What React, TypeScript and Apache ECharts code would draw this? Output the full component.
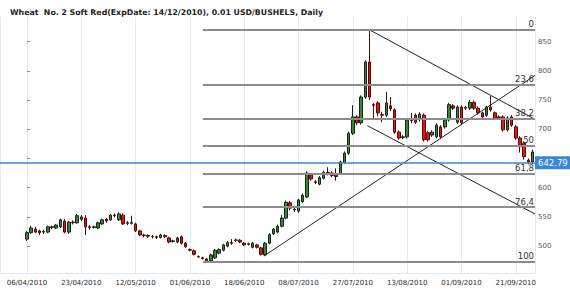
import React, { useEffect, useRef } from 'react';
import * as echarts from 'echarts';

const TITLE = 'Wheat  No. 2 Soft Red(ExpDate: 14/12/2010), 0.01 USD/BUSHELS, Daily';

// x tick labels, one every TICK_STEP trading days starting at bar 0
const TICK_LABELS = [
  '06/04/2010', '23/04/2010', '12/05/2010', '01/06/2010', '18/06/2010',
  '08/07/2010', '27/07/2010', '13/08/2010', '01/09/2010', '21/09/2010',
];
const TICK_STEP = 13;

// daily bars: [open, close, low, high]
const CANDLES: number[][] = [
  [512, 523, 509, 526], [523, 531, 521, 535], [529, 524, 522, 533], [526, 523, 519, 528],
  [524, 525, 521, 528], [524, 533, 522, 535], [533, 532, 529, 535], [531, 536, 529, 538],
  [533, 545, 531, 547], [543, 524, 522, 546], [524, 541, 521, 543], [541, 540, 537, 544],
  [540, 552, 538, 555], [550, 546, 543, 553], [548, 533, 519, 553], [533, 532, 528, 536],
  [532, 533, 530, 535], [531, 540, 529, 542], [538, 545, 536, 547], [546, 543, 540, 548],
  [545, 553, 543, 555], [553, 552, 549, 556], [545, 555, 543, 558], [553, 538, 536, 556],
  [540, 539, 536, 543], [539, 540, 537, 552], [538, 526, 524, 540], [526, 519, 517, 528],
  [519, 518, 515, 521], [518, 517, 514, 520], [516, 516.5, 513, 519], [516, 515, 512, 518],
  [515, 519, 513, 521], [518, 516, 514, 520], [514, 507, 505, 516], [508, 509, 506, 511],
  [507, 514, 505, 516], [516, 505, 503, 518], [505, 499, 497, 507], [494, 493, 491, 496],
  [492, 486, 484, 494], [482, 481.5, 480, 484], [480, 479, 477, 482], [478, 475, 473, 480],
  [475, 485, 474, 487], [480, 493, 478, 495], [488, 494, 486, 496], [493, 502, 491, 504],
  [500, 506, 498, 509], [506, 505, 502, 512], [510, 510.5, 507, 513], [510, 507, 505, 512],
  [505, 502, 500, 507], [504, 503, 501, 506], [498, 505, 496, 507], [502, 498, 496, 504],
  [497, 486, 484, 499], [485, 505, 483, 507], [505, 520, 503, 522], [521, 529, 519, 531],
  [524, 534, 522, 537], [534, 548, 532, 553], [548, 575, 546, 578], [574, 565, 561, 577],
  [563, 562, 558, 566], [560, 579, 557, 581], [576, 587, 574, 590], [584, 625, 582, 628],
  [622, 615, 612, 625], [610, 609, 606, 613], [606, 617, 604, 620], [616, 626, 614, 629],
  [626, 625, 621, 635], [625, 621, 618, 628], [624, 619, 612, 633], [624, 644, 622, 646],
  [643, 659, 641, 662], [659, 693, 656, 696], [693, 721, 690, 741], [721, 711, 707, 724],
  [711, 755, 708, 758], [755, 815, 752, 818], [815, 755, 750, 870], [742, 741, 716, 745],
  [745, 728, 722, 748], [725, 724, 712, 730], [724, 745, 721, 764], [740, 735, 731, 755],
  [733, 695, 692, 736], [695, 685, 682, 698], [686, 687, 683, 690], [687, 716, 684, 718],
  [716, 715, 710, 728], [724, 712, 709, 727], [716, 726, 713, 729], [724, 682, 679, 727],
  [694, 682, 679, 697], [690, 695, 687, 698], [687, 707, 684, 710], [704, 687, 684, 707],
  [704, 716, 701, 719], [716, 742, 713, 745], [740, 736, 733, 743], [712, 738, 709, 741],
  [738, 711, 708, 741], [737, 736, 733, 740], [736, 746, 733, 750], [746, 736, 733, 749],
  [736, 728, 725, 739], [728, 721, 718, 730], [724, 738, 721, 740], [738, 733, 730, 757],
  [728, 719, 716, 730], [721, 720, 717, 724], [721, 699, 696, 724], [699, 719, 696, 722],
  [721, 707, 704, 724], [704, 685, 682, 707], [685, 670, 660, 688], [676, 653, 648, 679],
  [647, 644, 640, 650], [644, 661, 641, 665],
];

const LAST_PRICE = 642.79;

// Fibonacci retracement between swing low and swing high
const FIB_HIGH = 870;
const FIB_LOW = 473;
const FIB_RATIOS = [0, 0.236, 0.382, 0.5, 0.618, 0.764, 1];
const FIB_LABELS = ['0', '23,6', '38,2', '50', '61,8', '76,4', '100'];
const FIB_START = 42.1;

// drawn trend lines: [bar index, price]
const TREND_UP = [[56.7, 483], [121.6, 792]];
const TREND_DOWN_UPPER = [[82, 870], [121.6, 717]];
const TREND_DOWN_LOWER = [[81.5, 706], [121.6, 555]];

const X_MIN = -6.46;
const X_MAX = 121.6;
const Y_MIN = 454;
const Y_MAX = 892;

const FONT = 'DejaVu Sans';

export default function App() {
  const ref = useRef<HTMLDivElement>(null);

  useEffect(() => {
    if (!ref.current) return;
    const chart = echarts.init(ref.current, null, { renderer: 'svg' });

    const fibLines = FIB_RATIOS.map((r, k) => {
      const v = FIB_HIGH - r * (FIB_HIGH - FIB_LOW);
      return [
        { coord: [FIB_START, v], name: FIB_LABELS[k] },
        { coord: [X_MAX, v] },
      ];
    });

    const trend = (name: string, data: number[][]) => ({
      name,
      type: 'line',
      data,
      showSymbol: false,
      symbol: 'none',
      silent: true,
      lineStyle: { color: '#222', width: 1 },
      z: 4,
    });

    const option: any = {
      animation: false,
      textStyle: { fontFamily: FONT },
      title: {
        text: TITLE,
        left: 5,
        top: 3,
        textStyle: { fontFamily: FONT, fontSize: 7.8, fontWeight: 'bold', color: '#222' },
      },
      grid: { left: 0, right: 35, top: 17, bottom: 23 },
      xAxis: {
        type: 'value',
        min: X_MIN,
        max: X_MAX,
        splitNumber: 10,
        minInterval: TICK_STEP,
        maxInterval: TICK_STEP,
        axisLine: { show: true, lineStyle: { color: '#dbe6f1' } },
        axisTick: { show: false },
        axisLabel: {
          fontFamily: FONT,
          fontSize: 7,
          color: '#2a2a2a',
          margin: 6,
          showMinLabel: false,
          showMaxLabel: false,
          formatter: (v: number) => {
            const k = v / TICK_STEP;
            return Number.isInteger(k) && TICK_LABELS[k] ? TICK_LABELS[k] : '';
          },
        },
        splitLine: { show: true, lineStyle: { color: '#e3ecf5', width: 1 } },
      },
      yAxis: {
        type: 'value',
        position: 'right',
        min: Y_MIN,
        max: Y_MAX,
        splitNumber: 8,
        minInterval: 50,
        maxInterval: 50,
        axisLine: { show: true, lineStyle: { color: '#dbe6f1' } },
        axisTick: { show: true, length: 3, lineStyle: { color: '#888' } },
        axisLabel: {
          fontFamily: FONT,
          fontSize: 7,
          color: '#555',
          margin: 3,
          showMinLabel: false,
          showMaxLabel: false,
          // the last-price tag covers the label next to it
          formatter: (v: number) =>
            v % 50 === 0 && Math.abs(v - LAST_PRICE) > 15 ? String(v) : '',
        },
        splitLine: { show: false },
      },
      series: [
        {
          type: 'candlestick',
          data: CANDLES.map((c, i) => [i, c[0], c[1], c[2], c[3]]),
          encode: { x: 0, y: [1, 2, 3, 4] },
          barWidth: 3,
          itemStyle: {
            color: '#2e8b2e',
            color0: '#f01010',
            borderColor: '#1e1e1e',
            borderColor0: '#4a0a0a',
            borderWidth: 1,
          },
          z: 3,
          markLine: {
            silent: true,
            animation: false,
            symbol: ['none', 'none'],
            lineStyle: { color: '#8c8c8c', width: 2, type: 'solid' },
            label: {
              show: true,
              position: 'insideEndTop',
              formatter: '{b}',
              color: '#333',
              fontFamily: FONT,
              fontSize: 8.5,
              distance: 1,
            },
            data: [
              ...fibLines,
              {
                yAxis: LAST_PRICE,
                lineStyle: { color: '#3a87d2', width: 1.5, type: 'solid' },
                label: {
                  show: true,
                  position: 'end',
                  distance: 0,
                  formatter: String(LAST_PRICE),
                  color: '#fff',
                  backgroundColor: '#3a87d2',
                  padding: [2, 3, 2, 3],
                  fontFamily: FONT,
                  fontSize: 8.5,
                },
              },
            ],
          },
        },
        trend('up', TREND_UP),
        trend('downUpper', TREND_DOWN_UPPER),
        trend('downLower', TREND_DOWN_LOWER),
      ],
    };

    chart.setOption(option);
    return () => chart.dispose();
  }, []);

  return (
    <div
      ref={ref}
      style={{ position: 'fixed', left: 0, top: 0, width: 570, height: 296, background: '#fff' }}
    />
  );
}
